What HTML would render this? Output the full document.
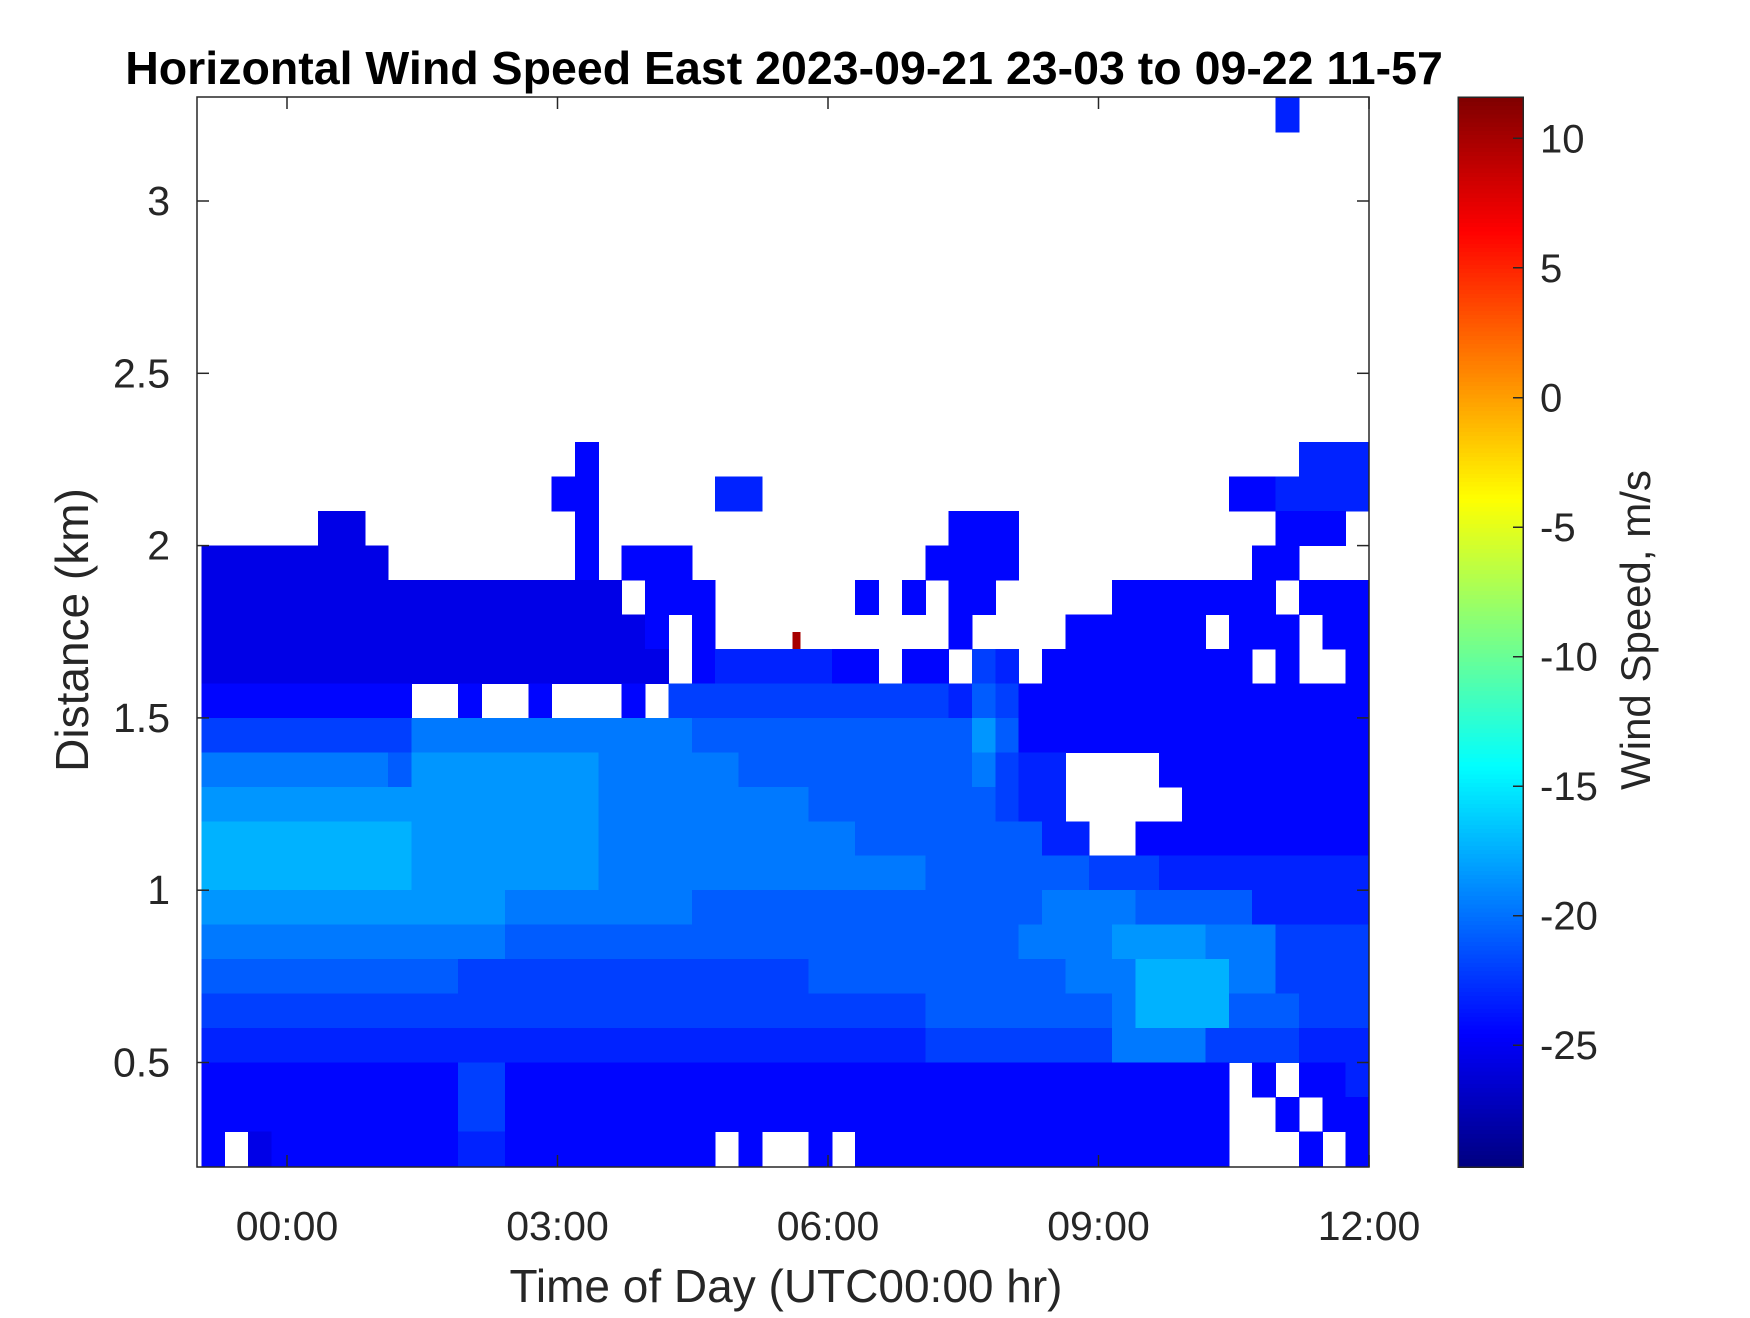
<!DOCTYPE html>
<html><head><meta charset="utf-8"><style>
html,body{margin:0;padding:0;background:#fff;}
svg text{font-family:"Liberation Sans",Arial,sans-serif;fill:#262626;}
</style></head><body>
<svg id="chart" width="1750" height="1313" viewBox="0 0 1750 1313" xmlns="http://www.w3.org/2000/svg">
<rect width="1750" height="1313" fill="#fff"/>
<text x="784" y="84" font-size="46.5" font-weight="bold" text-anchor="middle" style="fill:#000">Horizontal Wind Speed East 2023-09-21 23-03 to 09-22 11-57</text>
<g id="cells" shape-rendering="crispEdges"></g>
<g id="axes"></g>
<g id="cbar" shape-rendering="crispEdges"></g>
<text x="786" y="1302" font-size="46" text-anchor="middle">Time of Day (UTC00:00 hr)</text>
<text x="0" y="0" font-size="46" text-anchor="middle" transform="translate(88,630) rotate(-90)">Distance (km)</text>
<text x="0" y="0" font-size="42" text-anchor="middle" transform="translate(1650,630) rotate(-90)">Wind Speed, m/s</text>
</svg>
<script>
// ---- data ----
const timeStart = -0.95, timeEnd = 12.0;      // hours
const heightStart = 0.2, heightStep = 0.1;     // km
// rows from top (3.2-3.3 km) to bottom (0.2-0.3 km); '.' = no data, digit d -> -25.5 + 1.17*d m/s
const gridRows = [
"..............................................2...",
"..................................................",
"..................................................",
"..................................................",
"..................................................",
"..................................................",
"..................................................",
"..................................................",
"..................................................",
"..................................................",
"................" + "1" + ".............................." + "222",
"..............." + "11" + "....." + "22" + "...................." + "112222",
"....." + "00" + "........." + "1" + "..............." + "111" + "..........." + "111" + ".",
"00000000" + "........" + "1" + "." + "11" + "1" + ".........." + "1111" + ".........." + "11" + "...",
"000000000000000000" + "." + "111" + "......" + "1.1.11" + "....." + "1111111" + "." + "111",
"0000000000000000000" + "1" + "." + "1" + ".........." + "1" + "...." + "11" + "1111.111.11",
"00000000000000000000" + "." + "1" + "22222" + "11.11" + "." + "3" + "2" + "." + "11111111" + "1.1..1",
"111111111" + "..1..1...1." + "333333333333" + "2" + "4" + "3" + "111111111111111",
"333333333" + "555555555555" + "444444444444" + "6" + "4" + "111111111111111",
"55555555" + "4" + "66666666" + "555555" + "4444444444" + "5" + "3" + "22" + "...." + "111111111",
"66666666666666666" + "555555555" + "44444444" + "3" + "22" + "....." + "11111111",
"77777777766666666" + "55555555555" + "44444444" + "22" + ".." + "1111111111",
"777777777" + "66666666" + "55555555555555" + "4444444" + "333" + "222222222",
"6666666666666" + "55555555" + "444444444444444" + "5555" + "44444" + "22222",
"5555555555555" + "4444444444444444444444" + "5555" + "6666" + "555" + "3333",
"44444444444" + "333333333333333" + "44444444444" + "555" + "7777" + "55" + "3333",
"3333333333333333333333333333333" + "44444444" + "5" + "7777" + "444" + "333",
"2222222222222222222222222222222" + "33333333" + "5555" + "3333" + "222",
"11111111111" + "33" + "1111111111111111111111111111111" + ".1.112",
"11111111111" + "33" + "1111111111111111111111111111111" + "..1.11",
"1.0" + "11111111" + "22" + "111111111" + ".1..1." + "1111111111111111" + "...1.1"
];
const hotTimes = [5.65];
const hotHeights = [1.70];
const hotValues = [10];
const xTicks = [0, 3, 6, 9, 12];
const xTickLabels = ["00:00", "03:00", "06:00", "09:00", "12:00"];
const yTicks = [0.5, 1, 1.5, 2, 2.5, 3];
const yTickLabels = ["0.5", "1", "1.5", "2", "2.5", "3"];
const cTicks = [10, 5, 0, -5, -10, -15, -20, -25];
const cTickLabels = ["10", "5", "0", "-5", "-10", "-15", "-20", "-25"];
const cMin = -29.7, cMax = 11.6;

// ---- scales ----
const L = 197, R = 1369, T = 97, B = 1167;
const xScale = t => 287 + t * (1369 - 287) / 12;
const yScale = h => 201 + (3 - h) * 344.6;
const CBX = 1458, CBW = 65;
const cScale = v => B - (v - cMin) / (cMax - cMin) * (B - T);
function jet(v) {
  let n = (v - cMin) / (cMax - cMin);
  n = Math.max(0, Math.min(1, n));
  const c = x => Math.round(255 * Math.max(0, Math.min(1, x)));
  const r = Math.min(4 * n - 1.5, -4 * n + 4.5);
  const g = Math.min(4 * n - 0.5, -4 * n + 3.5);
  const b = Math.min(4 * n + 0.5, -4 * n + 2.5);
  return `rgb(${c(r)},${c(g)},${c(b)})`;
}
const NS = "http://www.w3.org/2000/svg";
function mk(tag, attrs, parent) {
  const e = document.createElementNS(NS, tag);
  for (const k in attrs) e.setAttribute(k, attrs[k]);
  parent.appendChild(e);
  return e;
}

// ---- heatmap ----
const cells = document.getElementById('cells');
const nRows = gridRows.length;
gridRows.forEach((row, ri) => {
  const j = nRows - 1 - ri;
  const nCols = row.length;
  const dt = (timeEnd - timeStart) / nCols;
  for (let i = 0; i < nCols; i++) {
    const ch = row[i];
    if (ch === '.') continue;
    const val = -25.5 + 1.17 * parseInt(ch, 10);
    const x0 = xScale(timeStart + i * dt), x1 = xScale(timeStart + (i + 1) * dt);
    const h0 = heightStart + j * heightStep;
    const y0 = yScale(h0 + heightStep), y1 = yScale(h0);
    const yy0 = Math.max(T, y0), yy1 = Math.min(B, y1);
    const r = mk('rect', {x: x0.toFixed(2), y: yy0.toFixed(2), width: (x1 - x0 + 0.5).toFixed(2), height: (yy1 - yy0 + 0.5).toFixed(2), fill: jet(val)}, cells);
    
    
  }
});
hotTimes.forEach((t, k) => {
  const r = mk('rect', {x: xScale(t) - 4, y: yScale(hotHeights[k] + 0.05), width: 8, height: yScale(hotHeights[k]) - yScale(hotHeights[k] + 0.05), fill: jet(hotValues[k])}, cells);
  
  
});

// ---- axes ----
const axes = document.getElementById('axes');
const box = mk('rect', {x: L, y: T, width: R - L, height: B - T, fill: 'none', stroke: '#262626', 'stroke-width': 1.5}, axes);


xTicks.forEach((t, k) => {
  const x = xScale(t);
  mk('line', {x1: x, y1: B, x2: x, y2: B - 12, stroke: '#262626', 'stroke-width': 1.5}, axes);
  mk('line', {x1: x, y1: T, x2: x, y2: T + 12, stroke: '#262626', 'stroke-width': 1.5}, axes);
  const tx = mk('text', {x: x, y: 1240, 'font-size': 41, 'text-anchor': 'middle'}, axes);
  tx.textContent = xTickLabels[k];
  
  
});
yTicks.forEach((h, k) => {
  const y = yScale(h);
  mk('line', {x1: L, y1: y, x2: L + 12, y2: y, stroke: '#262626', 'stroke-width': 1.5}, axes);
  mk('line', {x1: R, y1: y, x2: R - 12, y2: y, stroke: '#262626', 'stroke-width': 1.5}, axes);
  const tx = mk('text', {x: 170, y: y + 14, 'font-size': 41, 'text-anchor': 'end'}, axes);
  tx.textContent = yTickLabels[k];
  
  
});

// ---- colorbar ----
const cbar = document.getElementById('cbar');
const steps = 256;
for (let s = 0; s < steps; s++) {
  const v0 = cMin + (cMax - cMin) * s / steps, v1 = cMin + (cMax - cMin) * (s + 1) / steps;
  mk('rect', {x: CBX, y: cScale(v1), width: CBW, height: cScale(v0) - cScale(v1) + 0.6, fill: jet((v0 + v1) / 2)}, cbar);
}
mk('rect', {x: CBX, y: T, width: CBW, height: B - T, fill: 'none', stroke: '#262626', 'stroke-width': 1.5}, cbar);
cTicks.forEach((v, k) => {
  const y = cScale(v);
  mk('line', {x1: CBX + CBW, y1: y, x2: CBX + CBW - 10, y2: y, stroke: '#262626', 'stroke-width': 1.5}, cbar);
  const tx = mk('text', {x: 1540, y: y + 14, 'font-size': 40, 'text-anchor': 'start'}, cbar);
  tx.textContent = cTickLabels[k];
  
  
});
</script>
</body></html>
